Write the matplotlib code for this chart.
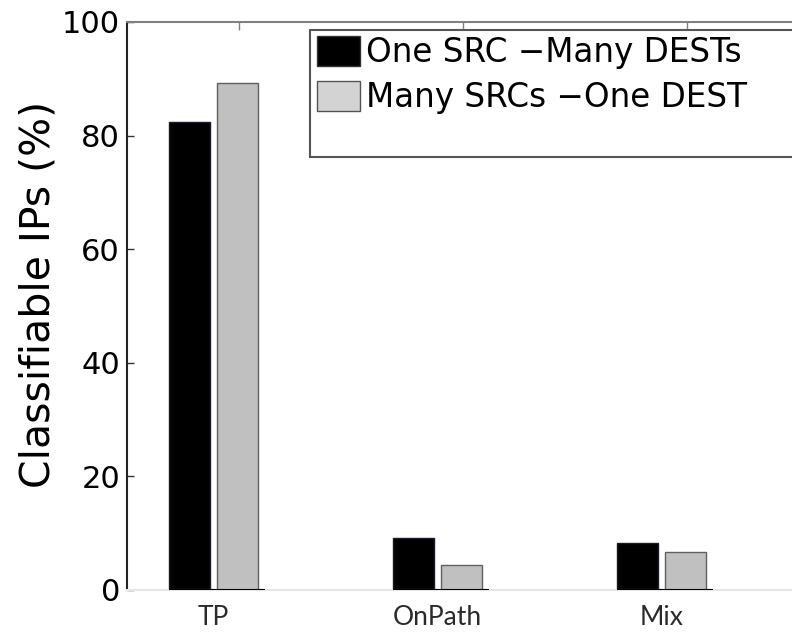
import matplotlib.pyplot as plt
import matplotlib.patches as mpatches
import numpy as np

categories = ['TP', 'OnPath', 'Mix']
one_src_many_dests = [82.4, 9.1, 8.2]
many_srcs_one_dest = [89.2, 4.4, 6.7]
series_labels = ['One SRC \u2212Many DESTs', 'Many SRCs \u2212One DEST']
yticks = [0, 20, 40, 60, 80, 100]

plt.rcParams['font.family'] = ['DejaVu Sans']
fig = plt.figure(figsize=(7.92, 6.32), dpi=100)
ax = fig.add_axes([0.1604, 0.0665, 0.8485, 0.8987])

x = np.arange(1, len(categories) + 1)
w = 0.183
off = 0.108
b1 = ax.bar(x - off, one_src_many_dests, w, color='black', edgecolor='#1a1a2a', linewidth=1)
b2 = ax.bar(x + off, many_srcs_one_dest, w, color='#c0c0c0', edgecolor='#606060', linewidth=1)

# dark baseline under each group, light elsewhere
ax.hlines(np.zeros(len(x)), x - 0.2, x + 0.23, colors='black', linewidth=1.5, zorder=3)

ax.set_xlim(0.614, 3.614)
ax.set_ylim(0, 100)
ax.set_yticks(yticks)
ax.set_yticklabels([str(t) for t in yticks], fontsize=22)
ax.set_xticks(x)
ax.set_xticklabels(categories, fontsize=19, family=['Lato', 'DejaVu Sans'], color='#2a2a2a')
ax.tick_params(axis='x', length=0, pad=11)
ax.tick_params(axis='y', direction='in', length=5, width=1, pad=5, color='#333333')
ax.set_ylabel('Classifiable IPs (%)', fontsize=29.5)
ax.yaxis.set_label_coords(-0.102, 0.521)

ax.spines['left'].set_color('#222222')
ax.spines['left'].set_linewidth(1.5)
ax.spines['top'].set_color('#808080')
ax.spines['top'].set_linewidth(1.5)
ax.spines['bottom'].set_color('#e6e6e6')
ax.spines['bottom'].set_linewidth(1.5)
ax.spines['right'].set_visible(False)

top = ax.secondary_xaxis('top')
top.set_xticks(x + 0.112)
top.set_xticklabels([])
top.tick_params(direction='in', length=6, width=1, color='#808080')
top.spines['top'].set_visible(False)

# legend box with extra space at bottom
box = mpatches.Rectangle((0.272, 0.762), 0.8, 0.224, transform=ax.transAxes,
                         facecolor='white', edgecolor='#555555', linewidth=1.5,
                         zorder=4, clip_on=False)
ax.add_patch(box)
h1 = mpatches.Patch(facecolor='black', edgecolor='#333333')
h2 = mpatches.Patch(facecolor='#d3d3d3', edgecolor='#555555')
leg = ax.legend([h1, h2], series_labels, loc='upper left', bbox_to_anchor=(0.283, 0.975),
                frameon=False, fontsize=23.5, handlelength=1.3, handleheight=1.05,
                handletextpad=0.2, labelspacing=0.35, borderaxespad=0, borderpad=0)
leg.set_zorder(5)

plt.savefig('out.png', dpi=100)
